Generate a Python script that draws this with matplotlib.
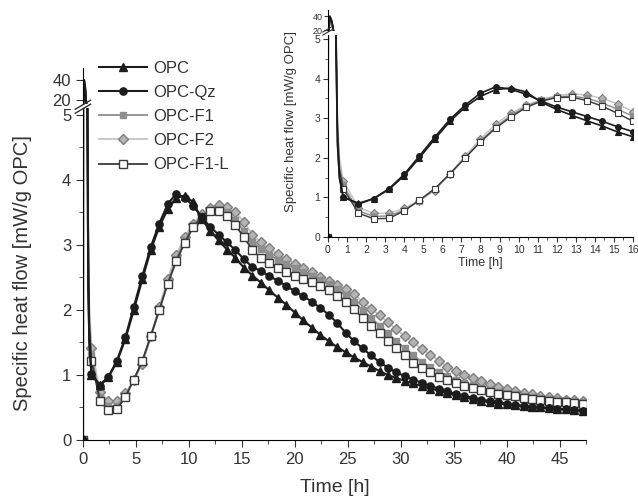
import matplotlib
matplotlib.use("Agg")
import matplotlib.pyplot as plt
import numpy as np
from matplotlib.ticker import MultipleLocator

plt.rcParams['font.family'] = ['Liberation Sans', 'DejaVu Sans']

# time [h]: the fast initial peak, then one reading every 0.8 h
t_spike = [0.0, 0.1, 0.2, 0.3, 0.4, 0.5, 0.6]
t_grid = np.round(np.arange(1, 60) * 0.8, 1)
time_h = np.concatenate([t_spike, t_grid])

# specific heat flow [mW/g OPC]
opc = [0, 40, 33, 18, 5.5, 2.4, 1.5,
       1.00, 0.85, 0.97, 1.20, 1.55, 2.00, 2.47, 2.92, 3.28, 3.55,
       3.72, 3.76, 3.66, 3.40, 3.22, 3.07, 2.93, 2.80, 2.65, 2.53,
       2.42, 2.30, 2.19, 2.08, 1.96, 1.84, 1.73, 1.62, 1.52, 1.43,
       1.35, 1.27, 1.20, 1.13, 1.06, 1.00, 0.95, 0.91, 0.87, 0.83,
       0.79, 0.76, 0.72, 0.69, 0.66, 0.63, 0.60, 0.58, 0.56, 0.55,
       0.54, 0.52, 0.51, 0.50, 0.49, 0.48, 0.47, 0.46, 0.45]
opc_qz = [0, 39, 32, 17, 5.3, 2.3, 1.5,
          1.02, 0.83, 0.97, 1.22, 1.58, 2.05, 2.52, 2.97, 3.33, 3.63,
          3.79, 3.73, 3.60, 3.43, 3.28, 3.16, 3.04, 2.92, 2.78, 2.66,
          2.60, 2.52, 2.45, 2.37, 2.29, 2.21, 2.13, 2.03, 1.93, 1.80,
          1.65, 1.52, 1.41, 1.30, 1.20, 1.11, 1.04, 0.98, 0.93, 0.88,
          0.83, 0.79, 0.75, 0.71, 0.68, 0.65, 0.62, 0.60, 0.58, 0.56,
          0.54, 0.52, 0.51, 0.50, 0.49, 0.48, 0.47, 0.46, 0.45]
opc_f1 = [0, 38, 31, 18, 6.0, 2.8, 1.8,
          1.30, 0.66, 0.52, 0.53, 0.68, 0.92, 1.20, 1.58, 2.00, 2.42,
          2.78, 3.07, 3.30, 3.45, 3.54, 3.56, 3.50, 3.38, 3.22, 3.05,
          2.94, 2.85, 2.77, 2.70, 2.64, 2.58, 2.52, 2.46, 2.40, 2.32,
          2.23, 2.12, 2.00, 1.88, 1.76, 1.64, 1.52, 1.41, 1.30, 1.20,
          1.12, 1.04, 0.98, 0.92, 0.88, 0.84, 0.80, 0.77, 0.74, 0.72,
          0.70, 0.68, 0.66, 0.64, 0.63, 0.62, 0.61, 0.60, 0.59]
opc_f2 = [0, 37, 30, 18, 6.5, 3.0, 2.0,
          1.42, 0.74, 0.60, 0.60, 0.72, 0.92, 1.17, 1.60, 2.05, 2.48,
          2.85, 3.12, 3.33, 3.47, 3.57, 3.62, 3.58, 3.50, 3.36, 3.16,
          3.04, 2.95, 2.86, 2.78, 2.71, 2.65, 2.58, 2.51, 2.45, 2.38,
          2.32, 2.24, 2.13, 2.02, 1.92, 1.81, 1.70, 1.60, 1.50, 1.40,
          1.31, 1.22, 1.13, 1.06, 1.00, 0.95, 0.90, 0.86, 0.82, 0.78,
          0.75, 0.72, 0.70, 0.68, 0.66, 0.64, 0.62, 0.61, 0.60]
opc_f1l = [0, 38, 31, 18, 6.0, 2.7, 1.7,
           1.22, 0.60, 0.46, 0.47, 0.66, 0.93, 1.22, 1.60, 2.00, 2.40,
           2.75, 3.03, 3.27, 3.43, 3.52, 3.53, 3.44, 3.30, 3.12, 2.92,
           2.80, 2.72, 2.65, 2.59, 2.53, 2.48, 2.43, 2.37, 2.30, 2.22,
           2.12, 2.01, 1.88, 1.76, 1.65, 1.53, 1.41, 1.30, 1.19, 1.11,
           1.04, 0.97, 0.92, 0.87, 0.83, 0.80, 0.77, 0.74, 0.71, 0.69,
           0.67, 0.65, 0.63, 0.61, 0.60, 0.59, 0.58, 0.57, 0.56]

labels = ["OPC", "OPC-Qz", "OPC-F1", "OPC-F2", "OPC-F1-L"]
values = [opc, opc_qz, opc_f1, opc_f2, opc_f1l]
styles = [
    dict(color='#1c1c1c', marker='^', mfc='#1c1c1c', mec='#1c1c1c', ms=5.5, lw=1.5),
    dict(color='#1c1c1c', marker='o', mfc='#1c1c1c', mec='#1c1c1c', ms=5.2, lw=1.5),
    dict(color='#8e8e8e', marker='s', mfc='#8e8e8e', mec='#8e8e8e', ms=4.8, lw=1.3),
    dict(color='#c4c4c4', marker='D', mfc='#b4b4b4', mec='#7e7e7e', ms=5.2, lw=1.3),
    dict(color='#3a3a3a', marker='s', mfc='white', mec='#3a3a3a', ms=5.4, lw=1.3),
]
draw_order = [3, 2, 4, 1, 0]
mark_idx = [0] + list(range(len(t_spike), len(time_h)))


def draw_curves(axes_list, scale=1.0):
    handles = {}
    for ax in axes_list:
        for i in draw_order:
            st = dict(styles[i])
            st['ms'] = st['ms'] * scale
            st['lw'] = st['lw'] * scale
            h, = ax.plot(time_h, values[i], markevery=mark_idx, mew=1.0 * scale,
                         label=labels[i], **st)
            handles[i] = h
    return [handles[i] for i in range(len(labels))]


def style_broken(ax_lo, ax_hi, fs):
    for ax in (ax_lo, ax_hi):
        ax.spines['top'].set_visible(False)
        ax.spines['right'].set_visible(False)
        ax.tick_params(direction='out', labelsize=fs, color='#333333', labelcolor='#333333')
        ax.tick_params(which='minor', direction='out', color='#333333')
        ax.set_facecolor('none')
    ax_hi.spines['bottom'].set_visible(False)
    ax_hi.tick_params(axis='x', which='both', bottom=False, labelbottom=False)
    ax_hi.set_yticks([20, 40])


fig = plt.figure(figsize=(6.38, 5.01), dpi=100)

# main chart, split y axis
ax = fig.add_axes([0.1301, 0.1218, 0.7884, 0.6617])
ax_top = fig.add_axes([0.1301, 0.7924, 0.7884, 0.0719])
handles = draw_curves([ax, ax_top])
ax.set_xlim(0, 47.5)
ax.set_ylim(0, 5.1)
ax_top.set_xlim(0, 47.5)
ax_top.set_ylim(16, 52)
ax.xaxis.set_major_locator(MultipleLocator(5))
ax.xaxis.set_minor_locator(MultipleLocator(2.5))
ax.yaxis.set_major_locator(MultipleLocator(1))
ax.yaxis.set_minor_locator(MultipleLocator(0.5))
style_broken(ax, ax_top, 12)
ax.tick_params(which='major', length=5)
ax.tick_params(which='minor', length=3)
ax_top.tick_params(which='major', length=5)
ax.set_xlabel("Time [h]", fontsize=14, color='#333333', labelpad=9)
fig.text(0.036, 0.455, "Specific heat flow [mW/g OPC]", rotation=90,
         ha='center', va='center', fontsize=14.5, color='#333333')

# break marks on the main y axis
for dy in (0.0, 0.008):
    fig.add_artist(plt.Line2D([0.118, 0.142], [0.774 + dy, 0.792 + dy],
                              color='#333333', lw=1.0))

fig.legend(handles, labels, loc='upper left', bbox_to_anchor=(0.144, 0.892),
           frameon=False, fontsize=12, handlelength=2.9, labelspacing=0.55,
           handletextpad=0.4, borderaxespad=0, labelcolor='#333333')

# inset: first 16 h
ins = fig.add_axes([0.5141, 0.527, 0.478, 0.4032])
ins_top = fig.add_axes([0.5141, 0.9381, 0.478, 0.0419])
draw_curves([ins, ins_top], scale=0.8)
ins.set_xlim(0, 16)
ins.set_ylim(0, 5.1)
ins_top.set_xlim(0, 16)
ins_top.set_ylim(18.6, 48.6)
ins.xaxis.set_major_locator(MultipleLocator(1))
ins.xaxis.set_minor_locator(MultipleLocator(0.5))
ins.yaxis.set_major_locator(MultipleLocator(1))
ins.yaxis.set_minor_locator(MultipleLocator(0.5))
style_broken(ins, ins_top, 7.5)
ins.tick_params(which='major', length=3.5, pad=2)
ins.tick_params(which='minor', length=2)
ins_top.tick_params(which='major', length=3, pad=1, labelsize=6.5)
ins.set_xlabel("Time [h]", fontsize=9, color='#333333', labelpad=2)
fig.text(0.456, 0.757, "Specific heat flow [mW/g OPC]", rotation=90,
         ha='center', va='center', fontsize=9.5, color='#333333')
for dy in (0.0, 0.006):
    fig.add_artist(plt.Line2D([0.506, 0.522], [0.930 + dy, 0.942 + dy],
                              color='#333333', lw=0.8))

fig.savefig("out.png", dpi=100)
